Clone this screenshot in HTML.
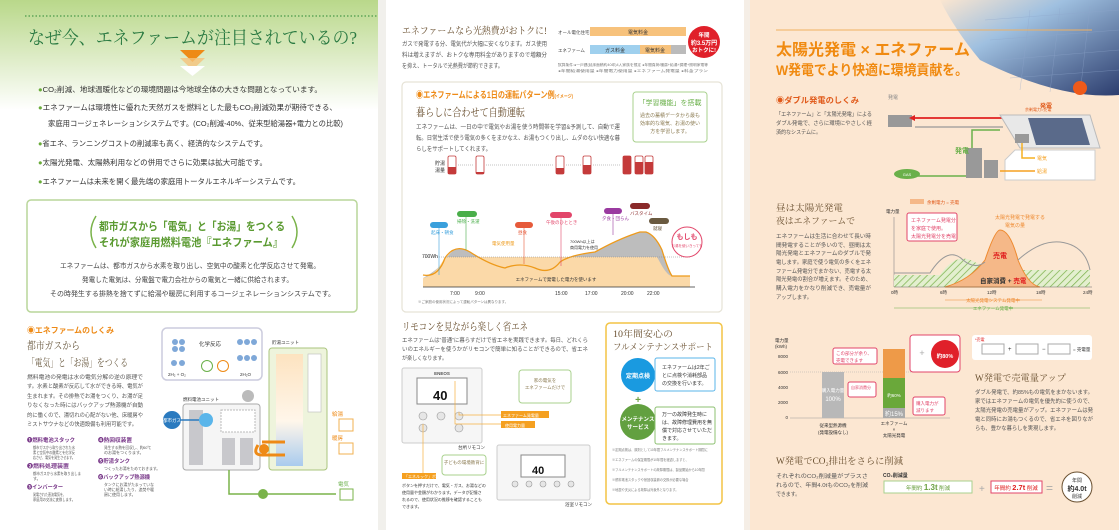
<!DOCTYPE html>
<html><head><meta charset="utf-8"><style>
html,body{margin:0;padding:0;width:1119px;height:530px;overflow:hidden;background:#fff}
svg{display:block}
text{font-family:"Liberation Sans","Noto Sans CJK JP",sans-serif}
.m{font-family:"Liberation Serif","Noto Serif CJK SC",serif}
</style></head><body>
<svg width="1119" height="530" viewBox="0 0 1119 530" xmlns="http://www.w3.org/2000/svg">
<defs>
<linearGradient id="grass" x1="0" y1="0" x2="0" y2="1">
<stop offset="0" stop-color="#b9d88a"/><stop offset="0.5" stop-color="#dcebc4"/><stop offset="1" stop-color="#ffffff"/></linearGradient>
<linearGradient id="sky" x1="0" y1="0" x2="1" y2="1">
<stop offset="0" stop-color="#fbe6d0"/><stop offset="0.35" stop-color="#9fc0e0"/><stop offset="1" stop-color="#2c3d6e"/></linearGradient>
<linearGradient id="tank" x1="0" y1="0" x2="0" y2="1">
<stop offset="0" stop-color="#fde3c0"/><stop offset="0.6" stop-color="#fff6ea"/><stop offset="1" stop-color="#a9cbee"/></linearGradient>
<pattern id="hatch" width="5" height="5" patternUnits="userSpaceOnUse" patternTransform="rotate(45)">
<rect width="5" height="5" fill="#e3efcf"/><line x1="0" y1="0" x2="0" y2="5" stroke="#7fb350" stroke-width="1.5"/></pattern>
</defs>

<!-- LEFT PANEL -->
<rect x="0" y="0" width="383" height="530" fill="#fff"/>
<rect x="0" y="0" width="383" height="110" fill="url(#grass)"/>
<line x1="25" y1="16" x2="383" y2="16" stroke="#4a9a4a" stroke-width="1.2" stroke-dasharray="1.5 2"/>
<text x="28" y="44" font-size="18" fill="#2a7a42" class="m" textLength="329" lengthAdjust="spacingAndGlyphs">なぜ今、エネファームが注目されているの?</text>
<polygon points="180,50 205,50 192.5,62" fill="#ee8a16"/>
<polygon points="180,58 205,58 192.5,70" fill="#f5c27a" opacity="0.8"/>
<polygon points="180,66 205,66 192.5,76" fill="#fff"/>
<g font-size="7.5" fill="#333">
<text x="38" y="92" textLength="284" lengthAdjust="spacingAndGlyphs"><tspan fill="#6aab3a">●</tspan>CO₂削減、地球温暖化などの環境問題は今地球全体の大きな問題となっています。</text>
<text x="38" y="110" textLength="299" lengthAdjust="spacingAndGlyphs"><tspan fill="#6aab3a">●</tspan>エネファームは環境性に優れた天然ガスを燃料とした最もCO₂削減効果が期待できる、</text>
<text x="48" y="126" textLength="295" lengthAdjust="spacingAndGlyphs">家庭用コージェネレーションシステムです。(CO₂削減-40%、従来型給湯器+電力との比較)</text>
<text x="38" y="146" textLength="229" lengthAdjust="spacingAndGlyphs"><tspan fill="#6aab3a">●</tspan>省エネ、ランニングコストの削減率も高く、経済的なシステムです。</text>
<text x="38" y="165" textLength="229" lengthAdjust="spacingAndGlyphs"><tspan fill="#6aab3a">●</tspan>太陽光発電、太陽熱利用などの併用でさらに効果は拡大可能です。</text>
<text x="38" y="184" textLength="262" lengthAdjust="spacingAndGlyphs"><tspan fill="#6aab3a">●</tspan>エネファームは未来を開く最先端の家庭用トータルエネルギーシステムです。</text>
</g>
<rect x="27" y="200" width="330" height="112" rx="4" fill="#fff" stroke="#b9d69a" stroke-width="1.5"/>
<path d="M96,216 Q86,232 96,248" stroke="#7ab34a" stroke-width="1.5" fill="none"/>
<path d="M292,216 Q302,232 292,248" stroke="#7ab34a" stroke-width="1.5" fill="none"/>
<text x="99" y="230" font-size="11" fill="#5a9a30" font-weight="bold" textLength="186" lengthAdjust="spacingAndGlyphs">都市ガスから「電気」と「お湯」をつくる</text>
<text x="99" y="246" font-size="11" fill="#5a9a30" font-weight="bold" textLength="184" lengthAdjust="spacingAndGlyphs">それが家庭用燃料電池『エネファーム』</text>
<g font-size="7" fill="#444" class="m">
<text x="60" y="268" textLength="260" lengthAdjust="spacingAndGlyphs">エネファームは、都市ガスから水素を取り出し、空気中の酸素と化学反応させて発電。</text>
<text x="82" y="282" textLength="211" lengthAdjust="spacingAndGlyphs">発電した電気は、分電盤で電力会社からの電気と一緒に供給されます。</text>
<text x="50" y="296" textLength="285" lengthAdjust="spacingAndGlyphs">その時発生する排熱を捨てずに給湯や暖房に利用するコージェネレーションシステムです。</text>
</g>
<text x="27" y="333" font-size="8" fill="#ee8a16" font-weight="bold" textLength="87" lengthAdjust="spacingAndGlyphs">◉エネファームのしくみ</text>
<text x="27" y="349" font-size="10.5" fill="#6a5a40" class="m" textLength="53" lengthAdjust="spacingAndGlyphs">都市ガスから</text>
<text x="27" y="366" font-size="10.5" fill="#6a5a40" class="m" textLength="101" lengthAdjust="spacingAndGlyphs">「電気」と「お湯」をつくる</text>
<g font-size="5.8" fill="#555" class="m">
<text x="27" y="379" textLength="116" lengthAdjust="spacingAndGlyphs">燃料電池の発電は水の電気分解の逆の原理で</text>
<text x="27" y="388" textLength="116" lengthAdjust="spacingAndGlyphs">す。水素と酸素が反応して水ができる時、電気が</text>
<text x="27" y="398" textLength="116" lengthAdjust="spacingAndGlyphs">生まれます。その排熱でお湯をつくり、お湯が足</text>
<text x="27" y="407" textLength="116" lengthAdjust="spacingAndGlyphs">りなくなった時にはバックアップ熱源機が自動</text>
<text x="27" y="417" textLength="116" lengthAdjust="spacingAndGlyphs">的に働くので、湯切れの心配がない他、床暖房や</text>
<text x="27" y="426" textLength="110" lengthAdjust="spacingAndGlyphs">ミストサウナなどの快適設備も利用可能です。</text>
</g>
<g font-size="5.5">
<text x="27" y="442" fill="#7a3a8a" font-weight="bold" textLength="48" lengthAdjust="spacingAndGlyphs">❶燃料電池スタック</text>
<text x="33" y="449" fill="#555" font-size="4" textLength="42" lengthAdjust="spacingAndGlyphs">都市ガスから取り出された水</text>
<text x="33" y="454" fill="#555" font-size="4" textLength="42" lengthAdjust="spacingAndGlyphs">素と空気中の酸素とを化学反</text>
<text x="33" y="459" fill="#555" font-size="4" textLength="42" lengthAdjust="spacingAndGlyphs">応させ、電気を発生させます。</text>
<text x="27" y="468" fill="#7a3a8a" font-weight="bold" textLength="42" lengthAdjust="spacingAndGlyphs">❷燃料処理装置</text>
<text x="33" y="475" fill="#555" font-size="4" textLength="48" lengthAdjust="spacingAndGlyphs">都市ガスから水素を取り出しま</text>
<text x="33" y="480" fill="#555" font-size="4">す。</text>
<text x="27" y="489" fill="#7a3a8a" font-weight="bold" textLength="36" lengthAdjust="spacingAndGlyphs">❸インバーター</text>
<text x="33" y="496" fill="#555" font-size="4" textLength="33" lengthAdjust="spacingAndGlyphs">発電された直流電気を、</text>
<text x="33" y="501" fill="#555" font-size="4" textLength="42" lengthAdjust="spacingAndGlyphs">家庭用の交流に変換します。</text>
<text x="98" y="442" fill="#7a3a8a" font-weight="bold" textLength="34" lengthAdjust="spacingAndGlyphs">❹熱回収装置</text>
<text x="104" y="449" fill="#555" font-size="4" textLength="47" lengthAdjust="spacingAndGlyphs">発生する熱を回収し、約60℃</text>
<text x="104" y="454" fill="#555" font-size="4">のお湯をつくります。</text>
<text x="98" y="463" fill="#7a3a8a" font-weight="bold" textLength="32" lengthAdjust="spacingAndGlyphs">❺貯湯タンク</text>
<text x="104" y="470" fill="#555" font-size="4" textLength="56" lengthAdjust="spacingAndGlyphs">つくったお湯をためておきます。</text>
<text x="98" y="479" fill="#7a3a8a" font-weight="bold" textLength="52" lengthAdjust="spacingAndGlyphs">❻バックアップ熱源機</text>
<text x="104" y="486" fill="#555" font-size="4" textLength="50" lengthAdjust="spacingAndGlyphs">タンクにお湯がたまっていな</text>
<text x="104" y="491" fill="#555" font-size="4" textLength="50" lengthAdjust="spacingAndGlyphs">い時に給湯したり、追焚や暖</text>
<text x="104" y="496" fill="#555" font-size="4">房に使用します。</text>
</g>
<!-- mechanism diagram -->
<rect x="162" y="328" width="100" height="52" rx="5" fill="#fff" stroke="#ccd" stroke-width="1.5"/>
<g fill="#7fa8d8"><circle cx="175" cy="342" r="3"/><circle cx="182" cy="342" r="3"/><circle cx="175" cy="349" r="3"/><circle cx="182" cy="349" r="3"/><circle cx="174" cy="363" r="3"/><circle cx="182" cy="363" r="3"/><circle cx="240" cy="342" r="3"/><circle cx="247" cy="342" r="3"/><circle cx="254" cy="342" r="3"/><circle cx="240" cy="358" r="3"/><circle cx="247" cy="358" r="3"/><circle cx="254" cy="358" r="3"/></g>
<text x="210" y="346" font-size="5.5" fill="#333" text-anchor="middle">化学反応</text>
<circle cx="207" cy="366" r="5.5" fill="#fff" stroke="#6ab04a"/><circle cx="223" cy="366" r="5.5" fill="#fff" stroke="#ee8a16"/>
<text x="168" y="376" font-size="4.5" fill="#333">2H₂ + O₂</text><text x="240" y="376" font-size="4.5" fill="#333">2H₂O</text>
<text x="272" y="344" font-size="4.5" fill="#333">貯湯ユニット</text>
<rect x="269" y="348" width="58" height="122" rx="3" fill="#eef4dc" stroke="#aac47e"/>
<rect x="276" y="354" width="27" height="112" fill="url(#tank)"/>
<rect x="308" y="354" width="13" height="58" fill="#fff" stroke="#bbb" stroke-width="0.6"/>
<text x="183" y="401" font-size="4.5" fill="#333">燃料電池ユニット</text>
<rect x="183" y="404" width="77" height="66" rx="3" fill="#f5f5f5" stroke="#aaa"/>
<rect x="189" y="410" width="14" height="55" fill="#c8c8cc"/>
<rect x="222" y="438" width="13" height="27" fill="#c8c8cc"/><rect x="240" y="438" width="13" height="27" fill="#c8c8cc"/>
<rect x="221" y="410" width="34" height="22" fill="#fff" stroke="#bbb" stroke-dasharray="2 1"/>
<circle cx="172" cy="420" r="9" fill="#2a7abf"/><text x="172" y="422" font-size="4.5" fill="#fff" text-anchor="middle">都市ガス</text>
<circle cx="206" cy="420" r="7" fill="#5ab5ea"/>
<line x1="181" y1="420" x2="199" y2="420" stroke="#2a7abf" stroke-width="1.5"/>
<circle cx="248" cy="396" r="6" fill="#bbb"/>
<path d="M258,445 Q252,455 262,455 L285,455" stroke="#ee8a16" stroke-width="3" fill="none"/>
<path d="M262,442 L285,442" stroke="#ee8a16" stroke-width="3"/>
<circle cx="264" cy="449" r="5" fill="#ee8a16"/>
<path d="M229,470 L229,494 L336,494" stroke="#7ab34a" stroke-width="1.5" fill="none"/>
<circle cx="263" cy="494" r="5" fill="#7ab34a"/>
<text x="332" y="416" font-size="5.5" fill="#ee8a16">給湯</text><rect x="339" y="419" width="14" height="12" fill="#fff" stroke="#f2b050"/>
<text x="332" y="440" font-size="5.5" fill="#ee8a16">暖房</text><rect x="339" y="443" width="14" height="11" fill="#fff" stroke="#f2b050"/>
<text x="338" y="486" font-size="5.5" fill="#6ab04a">電気</text><rect x="340" y="489" width="13" height="11" fill="#fff" stroke="#7ab34a"/>

<!-- fold shadow -->
<rect x="378" y="0" width="8" height="530" fill="#f1f0ec"/>

<!-- MIDDLE PANEL -->
<text x="402" y="34" font-size="9.5" fill="#6a5030" class="m" textLength="145" lengthAdjust="spacingAndGlyphs">エネファームなら光熱費がおトクに!</text>
<g font-size="6" fill="#555" class="m">
<text x="402" y="46" textLength="145" lengthAdjust="spacingAndGlyphs">ガスで発電する分、電気代が大幅に安くなります。ガス使用</text>
<text x="402" y="57" textLength="145" lengthAdjust="spacingAndGlyphs">料は増えますが、おトクな専用料金がありますので増額分</text>
<text x="402" y="68" textLength="101" lengthAdjust="spacingAndGlyphs">を抑え、トータルで光熱費が節約できます。</text>
</g>
<text x="558" y="34" font-size="4.5" fill="#444">オール電化住宅</text>
<rect x="590" y="27" width="96" height="9" fill="#f7c27c"/><text x="638" y="34" font-size="5" fill="#333" text-anchor="middle">電気料金</text>
<text x="558" y="52" font-size="4.5" fill="#444">エネファーム</text>
<rect x="590" y="45" width="50" height="9" fill="#9fd0ee"/><text x="615" y="52" font-size="5" fill="#333" text-anchor="middle">ガス料金</text>
<rect x="640" y="45" width="31" height="9" fill="#f7c27c"/><text x="655" y="52" font-size="5" fill="#333" text-anchor="middle">電気料金</text>
<rect x="671" y="45" width="15" height="9" fill="#bbb"/>
<circle cx="704" cy="42" r="16" fill="#e0202a"/>
<text x="704" y="37" font-size="5.5" fill="#fff" text-anchor="middle" font-weight="bold">年間</text>
<text x="704" y="45" font-size="6" fill="#fff" text-anchor="middle" font-weight="bold">約3.5万円</text>
<text x="704" y="52" font-size="5.5" fill="#fff" text-anchor="middle" font-weight="bold">おトクに!</text>
<text x="558" y="66" font-size="3.5" fill="#777" textLength="150" lengthAdjust="spacingAndGlyphs">試算条件:●一戸建(延床面積約40坪)4人家族を想定 ●年間負荷/暖房+給湯+調理+照明家電等</text>
<text x="558" y="72" font-size="3.5" fill="#777" textLength="150" lengthAdjust="spacingAndGlyphs">●年間給湯使用量 ●年間電力使用量 ●エネファーム発電量 ●料金プラン</text>

<rect x="402" y="82" width="320" height="230" rx="4" fill="#fff" stroke="#e6e3d6" stroke-width="1.2"/>
<text x="416" y="98" font-size="9" fill="#ee8a16" font-weight="bold" textLength="157" lengthAdjust="spacingAndGlyphs">◉エネファームによる1日の運転パターン例<tspan font-size="5">(イメージ)</tspan></text>
<text x="416" y="116" font-size="11" fill="#6a5030" class="m" textLength="109" lengthAdjust="spacingAndGlyphs">暮らしに合わせて自動運転</text>
<g font-size="6" fill="#555" class="m">
<text x="416" y="129" textLength="204" lengthAdjust="spacingAndGlyphs">エネファームは、一日の中で電気やお湯を使う時間帯を学習&amp;予測して、自動で運</text>
<text x="416" y="140" textLength="204" lengthAdjust="spacingAndGlyphs">転。日常生活で使う電気の多くをまかなえ、お湯もつくり出し、ムダのない快適な暮</text>
<text x="416" y="151" textLength="75" lengthAdjust="spacingAndGlyphs">らしをサポートしてくれます。</text>
</g>
<rect x="633" y="92" width="74" height="50" rx="3" fill="#fff" stroke="#a9d18e"/>
<text x="670" y="105" font-size="7" fill="#6ab04a" text-anchor="middle">「学習機能」を搭載</text>
<g font-size="5" fill="#8a7a50" text-anchor="middle"><text x="670" y="117">過去の蓄積データから最も</text><text x="670" y="125">効率的な電気、お湯の使い</text><text x="670" y="133">方を学習します。</text></g>
<text x="435" y="165" font-size="5" fill="#333">貯湯</text><text x="435" y="172" font-size="5" fill="#333">湯量</text>
<g stroke="#888" stroke-width="0.6" stroke-dasharray="1 1"><line x1="458" y1="165" x2="474" y2="165"/><line x1="486" y1="165" x2="553" y2="165"/><line x1="566" y1="165" x2="581" y2="165"/><line x1="593" y1="165" x2="620" y2="165"/></g>
<g stroke="#c43a3a" stroke-width="0.8" fill="#fff">
<rect x="448" y="156" width="8" height="18" rx="1.5"/><rect x="476" y="156" width="8" height="18" rx="1.5"/><rect x="556" y="156" width="8" height="18" rx="1.5"/><rect x="583" y="156" width="8" height="18" rx="1.5"/><rect x="623" y="156" width="8" height="18" rx="1.5"/><rect x="635" y="156" width="8" height="18" rx="1.5"/><rect x="645" y="156" width="8" height="18" rx="1.5"/></g>
<g fill="#c43a3a"><rect x="448" y="167" width="8" height="7"/><rect x="476" y="172" width="8" height="2"/><rect x="556" y="168" width="8" height="6"/><rect x="583" y="165" width="8" height="9"/><rect x="623" y="156" width="8" height="18"/><rect x="635" y="162" width="8" height="12"/><rect x="645" y="162" width="8" height="12"/></g>
<!-- chart -->
<path d="M423,284 L423,278 Q438,270 445,260 Q455,243 470,252 Q490,265 505,268 Q520,262 535,268 Q550,275 560,262 Q570,255 595,252 Q620,238 640,232 L646,232 Q655,235 662,250 Q668,268 672,276 L690,276 L690,287 L423,287 Z" fill="#bdbdbd"/>
<path d="M423,284 L423,278 Q435,276 445,257 L622,257 L657,257 L662,266 Q668,276 672,276 L690,276 L690,287 L423,287 Z" fill="#fbd9a8"/>
<path d="M423,275 Q438,278 445,258 Q455,243 470,252 Q490,265 505,268 Q520,262 535,268 Q550,275 560,262 Q570,255 595,252 Q620,238 640,232 L646,232 Q655,235 662,250 Q668,270 672,276 L690,276" fill="none" stroke="#ee9a1a" stroke-width="1.3"/>
<line x1="423" y1="257" x2="690" y2="257" stroke="#888" stroke-dasharray="1 1" stroke-width="0.5"/>
<text x="422" y="258" font-size="5" fill="#333">700Wh</text>
<line x1="423" y1="287" x2="695" y2="287" stroke="#333" stroke-width="0.8"/>
<text x="556" y="281" font-size="4.5" fill="#333" text-anchor="middle">エネファームで発電した電力を使います</text>
<g font-size="5" fill="#333"><text x="450" y="295">7:00</text><text x="475" y="295">9:00</text><text x="555" y="295">15:00</text><text x="585" y="295">17:00</text><text x="621" y="295">20:00</text><text x="647" y="295">22:00</text></g>
<text x="418" y="303" font-size="3.5" fill="#777">※ご家庭の使用状況によって運転パターンは異なります。</text>
<g stroke-width="0.6"><line x1="439" y1="228" x2="439" y2="275" stroke="#3aa0dc"/><line x1="466" y1="217" x2="466" y2="250" stroke="#4aae4a"/><line x1="524" y1="228" x2="524" y2="264" stroke="#e65a3a"/><line x1="561" y1="218" x2="561" y2="266" stroke="#e2466a"/><line x1="613" y1="214" x2="613" y2="235" stroke="#9a3aa0"/></g>
<g font-size="4.5">
<rect x="430" y="222" width="18" height="6" rx="3" fill="#3aa0dc"/><text x="431" y="234" fill="#3aa0dc">起床・朝食</text>
<rect x="457" y="211" width="20" height="6" rx="3" fill="#4aae4a"/><text x="457" y="223" fill="#4aae4a">掃除・洗濯</text>
<rect x="515" y="222" width="18" height="6" rx="3" fill="#e65a3a"/><text x="518" y="234" fill="#e65a3a">昼食</text>
<rect x="550" y="212" width="22" height="6" rx="3" fill="#e2466a"/><text x="546" y="224" fill="#e2466a">午後のひととき</text>
<rect x="604" y="208" width="18" height="6" rx="3" fill="#9a3aa0"/><text x="602" y="220" fill="#9a3aa0">夕食・団らん</text>
<rect x="630" y="203" width="20" height="6" rx="3" fill="#8a2a2a"/><text x="630" y="215" fill="#8a2a2a">バスタイム</text>
<rect x="649" y="218" width="20" height="6" rx="3" fill="#6a5a40"/><text x="653" y="230" fill="#6a5a40">就寝</text>
<text x="492" y="245" fill="#ee9a1a">電気使用量</text>
<text x="570" y="243" fill="#333" font-size="4">700Wh以上は</text><text x="570" y="249" fill="#333" font-size="4">商用電力を使用</text>
</g>
<circle cx="687" cy="242" r="15" fill="#fff" stroke="#e2466a"/>
<text x="687" y="239" font-size="7" fill="#e2466a" text-anchor="middle" font-weight="bold">もしも</text>
<text x="687" y="247" font-size="3.5" fill="#e2466a" text-anchor="middle">お湯を使いきっても</text>

<text x="402" y="330" font-size="10.5" fill="#6a5030" class="m" textLength="126" lengthAdjust="spacingAndGlyphs">リモコンを見ながら楽しく省エネ</text>
<g font-size="5.8" fill="#555" class="m">
<text x="402" y="342" textLength="186" lengthAdjust="spacingAndGlyphs">エネファームは“普通”に暮らすだけで省エネを実践できます。毎日、どれくら</text>
<text x="402" y="351" textLength="186" lengthAdjust="spacingAndGlyphs">いのエネルギーを使うかがリモコンで簡単に知ることができるので、省エネ</text>
<text x="402" y="360" textLength="45" lengthAdjust="spacingAndGlyphs">が楽しくなります。</text>
</g>
<rect x="402" y="368" width="80" height="75" rx="2" fill="#f6f6f6" stroke="#ccc"/>
<text x="442" y="375" font-size="4.5" fill="#555" text-anchor="middle" font-weight="bold">ENEOS</text>
<rect x="417" y="378" width="50" height="26" fill="#fff" stroke="#888"/>
<text x="433" y="400" font-size="13" fill="#111" font-weight="bold">40</text>
<g fill="#e6e6e6" stroke="#999" stroke-width="0.6"><circle cx="423" cy="416" r="4"/><circle cx="441" cy="416" r="4"/><circle cx="459" cy="416" r="4"/><circle cx="423" cy="428" r="4"/><circle cx="459" cy="428" r="4"/></g>
<text x="458" y="449" font-size="4.5" fill="#333">台所リモコン</text>
<g stroke="#f5b040" stroke-width="0.7" fill="none"><path d="M459,412 L459,415 L501,415"/><path d="M455,381 L455,424 L501,424"/><path d="M423,424 L423,475"/></g>
<rect x="501" y="411" width="48" height="7" fill="#f5a020"/><rect x="501" y="421" width="34" height="7" fill="#f5a020"/>
<text x="503" y="417" font-size="4" fill="#fff">エネファーム発電量</text><text x="505" y="427" font-size="4" fill="#fff">使用電力量</text>
<rect x="519" y="370" width="52" height="33" rx="3" fill="#fff" stroke="#a9d18e"/>
<text x="545" y="382" font-size="4.5" fill="#8a7a50" text-anchor="middle">家の電気を</text><text x="545" y="389" font-size="4.5" fill="#8a7a50" text-anchor="middle">エネファームだけで</text>
<rect x="442" y="455" width="44" height="20" rx="3" fill="#fff" stroke="#a9d18e"/>
<text x="464" y="464" font-size="4.5" fill="#8a7a50" text-anchor="middle">子どもの環境教育に</text>
<rect x="402" y="473" width="34" height="6" fill="#f5a020"/><text x="404" y="478" font-size="4" fill="#fff">「エネルック」ボタン</text>
<g font-size="4" fill="#333"><text x="402" y="487">ボタンを押すだけで、電気・ガス、お湯などの</text><text x="402" y="494">使用量や金額がわかります。データが記憶さ</text><text x="402" y="501">れるので、使用状況の推移を確認することも</text><text x="402" y="508">できます。</text></g>
<rect x="497" y="445" width="93" height="55" rx="2" fill="#f6f6f6" stroke="#ccc"/>
<rect x="521" y="455" width="44" height="22" fill="#fff" stroke="#888"/>
<text x="532" y="474" font-size="11" fill="#111" font-weight="bold">40</text>
<g fill="#e6e6e6" stroke="#999" stroke-width="0.6"><circle cx="515" cy="484" r="3"/><circle cx="529" cy="484" r="3"/><circle cx="543" cy="484" r="3"/><circle cx="557" cy="484" r="3"/><circle cx="571" cy="484" r="3"/></g>
<text x="565" y="506" font-size="4.5" fill="#333">浴室リモコン</text>
<rect x="606" y="323" width="116" height="181" rx="4" fill="#fff" stroke="#f3c445" stroke-width="1.5"/>
<text x="613" y="337" font-size="9" fill="#6a5030" class="m" textLength="60" lengthAdjust="spacingAndGlyphs">10年間安心の</text>
<text x="613" y="350" font-size="9" fill="#6a5030" class="m" textLength="100" lengthAdjust="spacingAndGlyphs">フルメンテナンスサポート</text>
<circle cx="638" cy="375" r="17" fill="#1a9ae0"/><text x="638" y="378" font-size="6" fill="#fff" text-anchor="middle" font-weight="bold">定期点検</text>
<rect x="655" y="358" width="60" height="33" rx="2" fill="#fff" stroke="#5ab5ea"/>
<g font-size="5" fill="#333"><text x="662" y="369">エネファームは2年ご</text><text x="662" y="377">とに点検や消耗部品</text><text x="662" y="385">の交換を行います。</text></g>
<text x="638" y="403" font-size="10" fill="#6aa040" text-anchor="middle" font-weight="bold">+</text>
<circle cx="638" cy="422" r="18" fill="#62a040"/><text x="638" y="421" font-size="5.5" fill="#fff" text-anchor="middle" font-weight="bold">メンテナンス</text><text x="638" y="429" font-size="5.5" fill="#fff" text-anchor="middle" font-weight="bold">サービス</text>
<rect x="655" y="407" width="60" height="37" rx="2" fill="#fff" stroke="#8cc070"/>
<g font-size="5" fill="#333"><text x="662" y="416">万一の故障発生時に</text><text x="662" y="424">は、故障修理費用を無</text><text x="662" y="432">償で対応させていただ</text><text x="662" y="440">きます。</text></g>
<g font-size="3.2" fill="#777"><text x="612" y="451">※定期点検は、原則として10年間フルメンテナンスサポート期間に</text><text x="612" y="461">※エネファームの保証期間が10年間を経過しますと、</text><text x="612" y="471">※フルメンテナンスサポートの故障期間は、製品開始から10年間</text><text x="612" y="481">※燃料電池スタックや熱回収装置の交換が必要な場合</text><text x="612" y="491">※地震や天災による故障は対象外となります。</text></g>

<!-- RIGHT PANEL -->
<rect x="746" y="0" width="373" height="530" fill="#fce7d2"/>
<rect x="744" y="0" width="6" height="530" fill="#f5eee6"/>
<path d="M940,0 L1119,0 L1119,95 Q1060,100 980,60 Q955,30 940,0 Z" fill="url(#sky)"/>
<g stroke="#8fa6cc" stroke-width="0.4" opacity="0.7">
<line x1="985" y1="20" x2="1119" y2="10"/><line x1="990" y1="40" x2="1119" y2="30"/><line x1="1000" y1="60" x2="1119" y2="50"/><line x1="1010" y1="78" x2="1119" y2="70"/>
<line x1="1030" y1="10" x2="1020" y2="90"/><line x1="1060" y1="8" x2="1050" y2="92"/><line x1="1090" y1="6" x2="1080" y2="94"/></g>
<line x1="776" y1="30" x2="1092" y2="30" stroke="#f0b060" stroke-width="1"/>
<text x="776" y="55" font-size="16" fill="#f08a10" font-weight="bold" textLength="194" lengthAdjust="spacingAndGlyphs">太陽光発電 × エネファーム</text>
<text x="776" y="75" font-size="14" fill="#f08a10" font-weight="bold" textLength="192" lengthAdjust="spacingAndGlyphs">W発電でより快適に環境貢献を。</text>
<text x="776" y="103" font-size="8" fill="#e05a1a" font-weight="bold" textLength="83" lengthAdjust="spacingAndGlyphs">◉ダブル発電のしくみ</text>
<g font-size="5.5" fill="#555" class="m"><text x="776" y="116" textLength="96" lengthAdjust="spacingAndGlyphs">「エネファーム」と「太陽光発電」による</text><text x="776" y="125" textLength="96" lengthAdjust="spacingAndGlyphs">ダブル発電で、さらに環境にやさしく経</text><text x="776" y="134" textLength="45" lengthAdjust="spacingAndGlyphs">済的なシステムに。</text></g>
<!-- house diagram -->
<rect x="888" y="115" width="24" height="12" fill="#999"/><text x="888" y="99" font-size="5" fill="#888">発電</text>
<line x1="915" y1="118" x2="1005" y2="118" stroke="#e02020" stroke-width="1.8"/><polygon points="915,115 909,118 915,121" fill="#e02020"/>
<line x1="915" y1="127" x2="1003" y2="127" stroke="#999" stroke-width="1.2"/>
<polygon points="1000,115 1090,115 1100,148 1020,148" fill="#e8e8e8" stroke="#bbb"/>
<polygon points="1028,118 1082,118 1090,145 1036,145" fill="#5a6a8a"/>
<polygon points="1015,150 1005,160 1005,180 1095,180 1095,150 1048,150" fill="#fff" stroke="#ccc"/>
<rect x="1015" y="134" width="14" height="9" fill="#999"/>
<circle cx="1080" cy="88" r="7" fill="#ee5a1a"/>
<rect x="966" y="148" width="16" height="30" fill="#999"/><rect x="984" y="160" width="14" height="18" fill="#999"/>
<path d="M918,176 L966,176" stroke="#6ab04a" stroke-width="1.5"/><path d="M972,148 L972,130 L1000,130" stroke="#6ab04a" stroke-width="1.5" fill="none"/>
<ellipse cx="907" cy="174" rx="13" ry="5" fill="#6ab04a"/><text x="907" y="176" font-size="4" fill="#fff" text-anchor="middle">GAS</text>
<text x="955" y="153" font-size="7" fill="#6ab04a" font-weight="bold">発電</text>
<text x="1040" y="108" font-size="6" fill="#e05a1a" font-weight="bold">発電</text>
<path d="M1022,143 L1022,158 L1035,158" stroke="#f5b020" stroke-width="1.5" fill="none"/><text x="1037" y="160" font-size="5" fill="#f5a020">電気</text>
<path d="M1000,171 L1035,171" stroke="#f5a020" stroke-width="1.5"/><text x="1037" y="173" font-size="5" fill="#f5a020">給湯</text>
<text x="1025" y="111" font-size="4" fill="#e05a1a">余剰電力=売電</text>
<!-- day chart -->
<text x="776" y="211" font-size="9" fill="#6a5030" class="m" textLength="67" lengthAdjust="spacingAndGlyphs">昼は太陽光発電</text>
<text x="776" y="224" font-size="9" fill="#6a5030" class="m" textLength="79" lengthAdjust="spacingAndGlyphs">夜はエネファームで</text>
<g font-size="5.5" fill="#555" class="m"><text x="776" y="238" textLength="95" lengthAdjust="spacingAndGlyphs">エネファームは生活に合わせて長い時</text><text x="776" y="247" textLength="95" lengthAdjust="spacingAndGlyphs">間発電することが多いので、昼間は太</text><text x="776" y="255" textLength="95" lengthAdjust="spacingAndGlyphs">陽光発電とエネファームのダブルで発</text><text x="776" y="264" textLength="95" lengthAdjust="spacingAndGlyphs">電します。家庭で使う電気の多くをエネ</text><text x="776" y="273" textLength="95" lengthAdjust="spacingAndGlyphs">ファーム発電分でまかない、売電する太</text><text x="776" y="281" textLength="95" lengthAdjust="spacingAndGlyphs">陽光発電の割合が増えます。そのため、</text><text x="776" y="290" textLength="95" lengthAdjust="spacingAndGlyphs">購入電力をかなり削減でき、売電量が</text><text x="776" y="299" textLength="36" lengthAdjust="spacingAndGlyphs">アップします。</text></g>
<rect x="910" y="199" width="14" height="5" fill="#f5b888"/><text x="927" y="204" font-size="4.5" fill="#e05a1a">余剰電力 = 売電</text>
<text x="886" y="213" font-size="4.5" fill="#333">電力量</text>
<line x1="894" y1="217" x2="894" y2="287" stroke="#888" stroke-width="0.6"/>
<path d="M894,275 L940,275 Q960,245 985,270 L1033,270 L1090,270 L1090,287 L894,287 Z" fill="url(#hatch)"/>
<path d="M945,287 Q970,280 985,260 Q995,230 1000,230 Q1010,230 1018,260 Q1028,285 1040,287 Z" fill="#f5b888" stroke="#ee8a30"/>
<path d="M894,273 L930,273 Q948,245 963,260 Q975,270 985,262" fill="none" stroke="#999" stroke-width="1"/>
<path d="M1018,260 Q1040,240 1060,242 Q1085,245 1090,270" fill="none" stroke="#999" stroke-width="1"/>
<line x1="894" y1="287" x2="1092" y2="287" stroke="#666" stroke-width="0.6"/>
<text x="1000" y="258" font-size="7" fill="#e02020" text-anchor="middle" font-weight="bold">売電</text>
<text x="980" y="283" font-size="6.5" fill="#333" font-weight="bold">自家消費 + <tspan fill="#e02020">売電</tspan></text>
<rect x="907" y="213" width="50" height="28" rx="2" fill="#fff" stroke="#e2466a"/>
<g font-size="5" fill="#e2466a"><text x="911" y="222">エネファーム発電分</text><text x="911" y="230">を家庭で使用。</text><text x="911" y="238">太陽光発電分を売電</text></g>
<g font-size="5" fill="#ee8a30"><text x="995" y="219">太陽光発電で発電する</text><text x="1005" y="227">電気の量</text></g>
<g font-size="4.5" fill="#333"><text x="891" y="294">0時</text><text x="940" y="294">6時</text><text x="987" y="294">12時</text><text x="1036" y="294">18時</text><text x="1083" y="294">24時</text></g>
<line x1="945" y1="300" x2="1042" y2="300" stroke="#ee8a30" stroke-width="0.6"/><text x="993" y="302" font-size="4.5" fill="#ee8a30" text-anchor="middle">太陽光発電システム発電中</text>
<line x1="894" y1="308" x2="1090" y2="308" stroke="#6ab04a" stroke-width="0.6"/><text x="993" y="310" font-size="4.5" fill="#6ab04a" text-anchor="middle">エネファーム発電中</text>
<!-- bar chart -->
<text x="775" y="342" font-size="4.5" fill="#333">電力量</text><text x="775" y="348" font-size="4.5" fill="#333">(kWh)</text>
<g font-size="4.5" fill="#333" text-anchor="end"><text x="788" y="358">8000</text><text x="788" y="374">6000</text><text x="788" y="389">4000</text><text x="788" y="404">2000</text><text x="788" y="419">0</text></g>
<line x1="790" y1="418" x2="950" y2="418" stroke="#999" stroke-width="0.6"/>
<line x1="790" y1="372" x2="950" y2="372" stroke="#aaa" stroke-dasharray="1 1" stroke-width="0.5"/>
<rect x="822" y="372" width="22" height="46" fill="#b8b8b8"/><text x="833" y="392" font-size="4.5" fill="#fff" text-anchor="middle">購入電力量</text><text x="833" y="401" font-size="6" fill="#fff" text-anchor="middle">100%</text>
<rect x="883" y="349" width="22" height="29" fill="#ee9a48"/><rect x="883" y="378" width="22" height="30" fill="#6aa83a"/><rect x="883" y="408" width="22" height="10" fill="#aaa"/>
<text x="894" y="416" font-size="6" fill="#fff" text-anchor="middle">約15%</text>
<text x="894" y="397" font-size="4.5" fill="#fff" text-anchor="middle">約60%</text>
<text x="833" y="427" font-size="4.5" fill="#333" text-anchor="middle">従来型熱源機</text><text x="833" y="434" font-size="4.5" fill="#333" text-anchor="middle">(発電設備なし)</text>
<text x="894" y="425" font-size="4.5" fill="#333" text-anchor="middle">エネファーム</text><text x="894" y="431" font-size="4.5" fill="#333" text-anchor="middle">×</text><text x="894" y="437" font-size="4.5" fill="#333" text-anchor="middle">太陽光発電</text>
<rect x="833" y="348" width="44" height="16" rx="2" fill="#fff" stroke="#e2466a"/><text x="836" y="355" font-size="4.5" fill="#e2466a">この部分が余り、</text><text x="836" y="362" font-size="4.5" fill="#e2466a">売電できます</text>
<rect x="848" y="382" width="28" height="15" rx="2" fill="#fff" stroke="#e2466a"/><text x="851" y="389" font-size="4" fill="#e2466a">自家消費分</text>
<rect x="913" y="397" width="32" height="18" rx="2" fill="#fff" stroke="#e2466a"/><text x="916" y="405" font-size="4.5" fill="#e2466a">購入電力が</text><text x="916" y="412" font-size="4.5" fill="#e2466a">減ります</text>
<rect x="910" y="335" width="50" height="37" rx="3" fill="#fff" stroke="#e2466a"/>
<text x="922" y="356" font-size="9" fill="#aaa" text-anchor="middle">+</text>
<circle cx="945" cy="354" r="14" fill="#e0202a"/><text x="945" y="358" font-size="5.5" fill="#fff" text-anchor="middle" font-weight="bold">約80%</text>
<rect x="972" y="335" width="120" height="25" rx="3" fill="#fff"/>
<text x="975" y="341" font-size="4" fill="#e02020">*売電</text>
<g font-size="3.8" fill="#333"><rect x="982" y="344" width="22" height="10" fill="#fff" stroke="#aaa"/><text x="1008" y="351" font-size="6">+</text><rect x="1016" y="344" width="22" height="10" fill="#fff" stroke="#aaa"/><text x="1042" y="351" font-size="6">−</text><rect x="1048" y="344" width="22" height="10" fill="#fff" stroke="#aaa"/><text x="1073" y="351" font-size="4.5">= 売電量</text></g>
<text x="975" y="381" font-size="9" fill="#6a5030" class="m" textLength="91" lengthAdjust="spacingAndGlyphs">W発電で売電量アップ</text>
<g font-size="5.5" fill="#555" class="m"><text x="975" y="394" textLength="118" lengthAdjust="spacingAndGlyphs">ダブル発電で、約85%もの電気をまかないます。</text><text x="975" y="403" textLength="118" lengthAdjust="spacingAndGlyphs">家ではエネファームの電気を優先的に使うので、</text><text x="975" y="412" textLength="118" lengthAdjust="spacingAndGlyphs">太陽光発電の売電量がアップ。エネファームは発</text><text x="975" y="421" textLength="118" lengthAdjust="spacingAndGlyphs">電と同時にお湯もつくるので、省エネを図りなが</text><text x="975" y="430" textLength="84" lengthAdjust="spacingAndGlyphs">らも、豊かな暮らしを実現します。</text></g>
<text x="776" y="464" font-size="9" fill="#6a5030" class="m" textLength="127" lengthAdjust="spacingAndGlyphs">W発電でCO₂排出をさらに削減</text>
<g font-size="5.5" fill="#555" class="m"><text x="776" y="478" textLength="92" lengthAdjust="spacingAndGlyphs">それぞれのCO₂削減量がプラスさ</text><text x="776" y="487" textLength="92" lengthAdjust="spacingAndGlyphs">れるので、年間4.0tものCO₂を削減</text><text x="776" y="496" textLength="24" lengthAdjust="spacingAndGlyphs">できます。</text></g>
<text x="883" y="477" font-size="5" fill="#333" font-weight="bold">CO₂削減量</text>
<rect x="884" y="481" width="88" height="12" fill="#fff" stroke="#a9d18e"/><text x="928" y="490" font-size="5.5" fill="#6aa040" text-anchor="middle">年間約 <tspan font-size="8" font-weight="bold">1.3t</tspan> 削減</text>
<text x="979" y="492" font-size="10" fill="#aaa">+</text>
<rect x="991" y="481" width="51" height="12" fill="#fff" stroke="#e2466a"/><text x="1016" y="490" font-size="5.5" fill="#e02020" text-anchor="middle">年間約 <tspan font-size="7.5" font-weight="bold">2.7t</tspan> 削減</text>
<text x="1046" y="492" font-size="12" fill="#aaa">=</text>
<circle cx="1077" cy="487" r="15" fill="#fff" stroke="#6a5030"/>
<text x="1077" y="482" font-size="5" fill="#333" text-anchor="middle">年間</text><text x="1077" y="491" font-size="7" fill="#333" text-anchor="middle" font-weight="bold">約4.0t</text><text x="1077" y="498" font-size="5" fill="#333" text-anchor="middle">削減</text>
</svg>
</body></html>
